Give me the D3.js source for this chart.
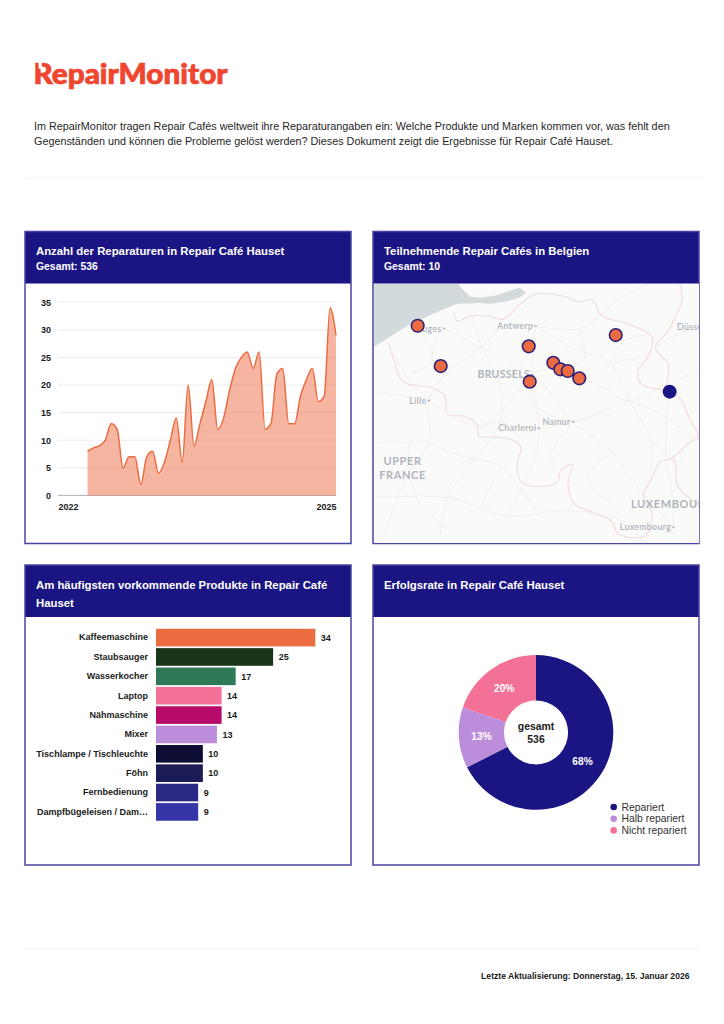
<!DOCTYPE html>
<html lang="de">
<head>
<meta charset="utf-8">
<title>RepairMonitor</title>
<script src="https://cdn.jsdelivr.net/npm/d3@7"></script>
<style>
html,body{margin:0;padding:0;background:#fff}
svg{display:block}
text{font-family:"Liberation Sans",Arial,sans-serif}
</style>
</head>
<body>
<svg id="page" width="724" height="1024" viewBox="0 0 724 1024"></svg>
<script>
// ---------- text ----------
const introLines = [
  "Im RepairMonitor tragen Repair Cafés weltweit ihre Reparaturangaben ein: Welche Produkte und Marken kommen vor, was fehlt den",
  "Gegenständen und können die Probleme gelöst werden? Dieses Dokument zeigt die Ergebnisse für Repair Café Hauset."
];
const footerText = "Letzte Aktualisierung: Donnerstag, 15. Januar 2026";

// ---------- line chart ----------
const monthLabels = [];
for (const yr of [2022,2023,2024,2025]) for (const m of ["01","02","03","04","05","06","07","08","09","10","11","12"]) monthLabels.push(yr+"-"+m);
const monthlyRepairs = [null,null,null,null,null,
  8,8.6,9,10,13,12,5,7,7,2,7,8,4,6,10,14,6,20,9,13,17,21,12,14,19,23,25,26,23,26,12,13,22,23,13,13,18,21,23,17,18,34,29];
const yTicks = [0,5,10,15,20,25,30,35];

// ---------- bars ----------
const products = ["Kaffeemaschine","Staubsauger","Wasserkocher","Laptop","Nähmaschine","Mixer","Tischlampe / Tischleuchte","Föhn","Fernbedienung","Dampfbügeleisen / Dam…"];
const productCounts = [34,25,17,14,14,13,10,10,9,9];
const productColors = ["#ec6c42","#183518","#2f7858","#f37097","#b80a68","#bb8ddb","#0e0e35","#1b1b55","#2a2a85","#3636a8"];

// ---------- donut ----------
const outcomes = ["Repariert","Halb repariert","Nicht repariert"];
const outcomeCounts = [362,68,106];
const outcomeColors = ["#1b1584","#bb8ddb","#f37097"];

// ---------- map ----------
const cafes = [[2.919,51.222],[3.208,50.904],[4.312,51.060],[4.325,50.780],[4.621,50.930],[4.709,50.878],[4.802,50.865],[4.947,50.807],[5.404,51.149]];
const hauset = [6.081,50.701];
const cities = [["Bruges",3.25,51.20],["Antwerp",4.40,51.22],["BRUSSELS",4.36,50.835],["Lille",3.06,50.63],["Namur",4.87,50.46],["Charleroi",4.44,50.41],["Luxembourg",6.13,49.61]];
const seaRing = [[2.0,51.0],[2.37,51.054],[2.785,51.22],[3.162,51.33],[3.41,51.394],[3.70,51.40],[3.83,51.394],[4.015,51.41],[4.18,51.44],[4.28,51.48],[4.20,51.52],[4.08,51.496],[3.89,51.457],[3.70,51.441],[3.576,51.449],[3.438,51.536],[3.45,51.7],[2.0,51.7],[2.0,51.0]];
const belgiumBorder = [[2.55,51.09],[2.61,50.97],[2.735,50.78],[3.11,50.73],[3.26,50.67],[3.29,50.52],[3.50,50.505],[3.66,50.44],[3.69,50.34],[3.79,50.34],[4.09,50.32],[4.215,50.26],[4.165,50.12],[4.215,49.98],[4.44,49.94],[4.68,49.98],[4.705,50.06],[4.855,50.12],[4.805,49.96],[4.89,49.80],[5.105,49.735],[5.36,49.655],[5.43,49.56],[5.77,49.54],[5.86,49.72],[5.75,49.86],[5.86,50.01],[5.96,50.14],[6.11,50.17],[6.30,50.28],[6.44,50.35],[6.34,50.47],[6.27,50.58],[6.19,50.66],[6.0,50.71],[5.73,50.76],[5.68,50.865],[5.81,50.975],[5.86,51.13],[5.56,51.236],[5.23,51.30],[5.11,51.425],[4.93,51.41],[4.77,51.45],[4.39,51.47],[4.20,51.385],[4.0,51.275],[3.79,51.30],[3.59,51.30],[3.41,51.26],[3.375,51.33]];
const otherBorders = [
  [[6.21,51.55],[6.235,51.42],[6.15,51.29],[6.06,51.18],[5.90,51.05],[6.06,50.92],[6.05,50.785],[6.0,50.71]],
  [[6.11,50.17],[6.15,50.13],[6.185,49.94],[6.435,49.80]]
];
const roads = [
  [[3.22,51.21],[3.72,51.05],[4.35,50.85],[4.87,50.46],[5.36,50.22],[5.72,49.90],[6.13,49.61]],
  [[4.40,51.22],[4.35,50.85],[4.44,50.41],[4.35,50.10],[4.05,49.70]],
  [[4.35,50.85],[4.70,50.88],[5.20,50.75],[5.57,50.63],[6.08,50.77],[6.46,50.87]],
  [[4.40,51.22],[4.95,51.20],[5.48,51.44],[5.80,51.55]],
  [[4.40,51.22],[4.86,51.05],[5.33,50.93],[5.57,50.63],[5.85,50.30],[5.82,49.95]],
  [[3.72,51.05],[3.26,50.83],[3.06,50.63],[3.06,50.30],[2.77,50.00],[2.50,49.55]],
  [[3.06,50.63],[2.40,50.70]],[[3.06,50.63],[2.75,50.85],[2.55,51.09]],
  [[3.06,50.63],[3.52,50.45],[3.95,50.45],[4.44,50.41],[4.87,50.46],[5.57,50.63]],
  [[3.72,51.05],[4.03,51.22],[4.40,51.22]],[[3.72,51.05],[3.95,50.75],[3.95,50.45],[3.55,50.10],[3.30,49.85],[3.20,49.55]],
  [[3.06,50.30],[3.40,50.20],[3.95,50.10],[4.40,49.75]],
  [[2.40,50.30],[3.06,50.30]],[[2.40,49.85],[3.30,49.85],[4.05,49.70],[4.75,49.75],[5.30,49.70],[5.82,49.60],[6.13,49.61]],
  [[6.13,49.61],[6.10,49.95],[6.03,50.16],[6.08,50.77]],[[5.57,50.63],[5.87,50.55],[6.25,50.40],[6.46,50.30]],
  [[4.35,50.85],[4.05,50.60],[3.70,50.40]],[[6.46,51.22],[6.00,51.10],[5.80,51.00],[5.33,50.93]],
  [[3.22,51.21],[3.10,50.95],[3.26,50.83]],[[2.92,51.23],[3.10,50.95],[2.85,50.85]],
  [[3.72,51.05],[3.60,51.30]],[[4.35,50.85],[4.35,50.62],[4.87,50.46],[5.25,50.55]],
  [[4.87,50.46],[4.60,50.20],[4.70,50.00]],[[5.36,50.22],[5.05,50.00],[5.35,49.80]],
  [[5.33,50.93],[5.50,51.10],[5.80,51.15]],[[4.95,51.20],[5.00,50.95],[4.70,50.88]],
  [[2.80,50.30],[2.90,49.85],[3.30,49.60]],[[3.95,50.10],[3.70,49.75]],[[5.85,50.30],[6.30,50.10]]
];

// ---------- layout ----------
const NAVY = "#1b1584", BORDER = "#4a45a3", ORANGE = "#ec6c42", INK = "#1a1a1a";
const svg = d3.select("#page");

// logo
const logo = svg.append("g").attr("class","logo");
logo.append("text").attr("x",33.5).attr("y",84).attr("font-size",27.5).attr("font-weight",900)
  .style("font-family","Lato").attr("fill","#f0452f").attr("stroke","#f0452f").attr("stroke-width",.7)
  .attr("textLength",194).attr("lengthAdjust","spacingAndGlyphs").text("RepairMonitor");
logo.append("path").attr("d","M38.6 61 h3.2 v6.5 a1.6 1.6 0 0 1 -3.2 0 z").attr("fill","#fff");

// intro
svg.append("g").selectAll("text").data(introLines).join("text")
  .attr("x",34).attr("y",(d,i)=>129.5+i*15).attr("font-size",10.82).attr("fill","#1f1f1f").text(d=>d);

// rules
svg.append("g").selectAll("line").data([178,949]).join("line")
  .attr("x1",25).attr("x2",699).attr("y1",d=>d).attr("y2",d=>d).attr("stroke","#f3f3f3").attr("stroke-width",1);

svg.append("text").attr("x",689.5).attr("y",979).attr("text-anchor","end").attr("font-size",8.6)
  .attr("font-weight",700).attr("fill",INK).text(footerText);

// panels
const panels = [
  {x:25,y:231.5,w:326,h:312,hh:52,lines:["Anzahl der Reparaturen in Repair Café Hauset","Gesamt: 536"],sizes:[11.35,10.4]},
  {x:373,y:231.5,w:326,h:312,hh:52,lines:["Teilnehmende Repair Cafés in Belgien","Gesamt: 10"],sizes:[11.35,10.4]},
  {x:25,y:565,w:326,h:300,hh:52,lines:["Am häufigsten vorkommende Produkte in Repair Café","Hauset"],sizes:[11.35,11.35]},
  {x:373,y:565,w:326,h:300,hh:52,lines:["Erfolgsrate in Repair Café Hauset"],sizes:[11.35]}
];
const panelG = svg.append("g").selectAll("g").data(panels).join("g");
panelG.append("rect").attr("x",d=>d.x).attr("y",d=>d.y).attr("width",d=>d.w).attr("height",d=>d.hh).attr("fill",NAVY);

// line chart
(function(){
  const x = d3.scalePoint().domain(monthLabels).range([58,336]);
  const y = d3.scaleLinear().domain([0,35]).range([495.4,302.2]);
  const g = svg.append("g");
  const yAxis = g.append("g").attr("transform","translate(58,0)")
    .call(d3.axisLeft(y).tickValues(yTicks).tickSize(0).tickPadding(7));
  yAxis.select(".domain").remove();
  yAxis.selectAll("text").attr("font-size",9).attr("font-weight",700).attr("fill",INK).style("font-family",'"Liberation Sans"');
  g.append("g").selectAll("line").data(yTicks.slice(1)).join("line")
    .attr("x1",58).attr("x2",336).attr("y1",d=>y(d)).attr("y2",d=>y(d)).attr("stroke","#ececec").attr("stroke-width",1);
  g.append("line").attr("x1",58).attr("x2",336).attr("y1",y(0)).attr("y2",y(0)).attr("stroke","#9a9a9a").attr("stroke-width",.8);
  const rows = monthLabels.map((m,i)=>({m,v:monthlyRepairs[i]})).filter(d=>d.v!==null);
  g.append("path").datum(rows).attr("fill",ORANGE).attr("fill-opacity",.5)
    .attr("d",d3.area().x(d=>x(d.m)).y0(y(0)).y1(d=>y(d.v)).curve(d3.curveMonotoneX));
  g.append("path").datum(rows).attr("fill","none").attr("stroke",ORANGE).attr("stroke-width",1.5)
    .attr("d",d3.line().x(d=>x(d.m)).y(d=>y(d.v)).curve(d3.curveMonotoneX));
  const xAxis = g.append("g").attr("transform","translate(0,"+y(0)+")")
    .call(d3.axisBottom(x).tickValues([monthLabels[0],monthLabels[47]]).tickSize(0).tickPadding(8).tickFormat(d=>d.slice(0,4)));
  xAxis.select(".domain").remove();
  xAxis.selectAll("text").attr("font-size",9).attr("font-weight",700).attr("fill",INK).style("font-family",'"Liberation Sans"')
    .attr("text-anchor",(d,i)=>i===0?"start":"end");
})();

// map
(function(){
  const px = {x:374,y:284,w:325,h:259};
  const defs = svg.append("defs");
  defs.append("clipPath").attr("id","mapClip").append("rect").attr("x",px.x).attr("y",px.y).attr("width",px.w).attr("height",px.h);
  const blur = defs.append("filter").attr("id","soft").attr("x","-5%").attr("y","-5%").attr("width","110%").attr("height","110%");
  blur.append("feGaussianBlur").attr("stdDeviation",0.5);
  const proj = d3.geoMercator().scale(4566).center([4.40,51.22]).translate([535.7,326]);
  const line = d3.line().x(d=>proj(d)[0]).y(d=>proj(d)[1]);
  const smooth = d3.line().x(d=>proj(d)[0]).y(d=>proj(d)[1]).curve(d3.curveCatmullRom.alpha(.5));
  const g = svg.append("g").attr("clip-path","url(#mapClip)");
  const base = g.append("g").attr("filter","url(#soft)");
  base.append("rect").attr("x",px.x).attr("y",px.y).attr("width",px.w).attr("height",px.h).attr("fill","#fafaf9");
  base.selectAll("path.water").data([seaRing]).join("path").attr("class","water")
    .attr("d",line).attr("fill","#d2dadc");
  base.selectAll("path.road").data(roads).join("path").attr("class","road")
    .attr("d",smooth).attr("fill","none").attr("stroke","#efeeec").attr("stroke-width",.9);
  base.selectAll("path.border").data([belgiumBorder,...otherBorders]).join("path").attr("class","border")
    .attr("d",smooth).attr("fill","none").attr("stroke","#f1dfe0").attr("stroke-width",1.3);
  const lab = {fill:"#aeb4bd"};
  const cg = g.append("g");
  cities.forEach(([name,lon,lat])=>{
    const [cx,cy] = proj([lon,lat]);
    const big = name===name.toUpperCase();
    cg.append("circle").attr("cx",cx).attr("cy",cy).attr("r",1.1).attr("fill",lab.fill);
    cg.append("text").attr("x",cx-2.5).attr("y",cy+3).attr("text-anchor","end").attr("font-size",big?10.5:8.8)
      .attr("font-weight",big?700:600).style("font-family","Lato").style("letter-spacing","0.3px").attr("fill",lab.fill).text(name);
  });
  const regions = [["UPPER",402.5,465,"middle"],["FRANCE",402.5,479,"middle"],["LUXEMBOURG",631,508,"start"]];
  cg.selectAll("text.region").data(regions).join("text").attr("class","region")
    .attr("x",d=>d[1]).attr("y",d=>d[2]).attr("text-anchor",d=>d[3]).attr("font-size",11).attr("font-weight",700)
    .style("font-family","Lato").style("letter-spacing","0.6px").attr("fill",lab.fill).text(d=>d[0]);
  cg.append("text").attr("x",677).attr("y",330).attr("font-size",8.8).attr("font-weight",600).style("font-family","Lato")
    .style("letter-spacing","0.3px").attr("fill",lab.fill).text("Düsseldorf");
  g.append("g").selectAll("circle").data(cafes).join("circle")
    .attr("cx",d=>proj(d)[0]).attr("cy",d=>proj(d)[1]).attr("r",6.3)
    .attr("fill",ORANGE).attr("stroke","#2e1f78").attr("stroke-width",1.6);
  g.append("circle").attr("cx",proj(hauset)[0]).attr("cy",proj(hauset)[1]).attr("r",7).attr("fill",NAVY);
})();

// bars
(function(){
  const x = d3.scaleLinear().domain([0,34]).range([156,315.3]);
  const y = d3.scaleBand().domain(products).range([628,821.5]).paddingInner(.09).paddingOuter(.04);
  const g = svg.append("g");
  g.selectAll("rect").data(products).join("rect")
    .attr("x",x(0)).attr("y",d=>y(d)).attr("height",y.bandwidth())
    .attr("width",(d,i)=>x(productCounts[i])-x(0)).attr("fill",(d,i)=>productColors[i]);
  const axis = g.append("g").attr("transform","translate(156,0)").call(d3.axisLeft(y).tickSize(0).tickPadding(8));
  axis.select(".domain").remove();
  axis.selectAll("text").attr("font-size",9).attr("font-weight",700).attr("fill",INK).style("font-family",'"Liberation Sans"');
  g.selectAll("text.val").data(products).join("text").attr("class","val")
    .attr("x",(d,i)=>x(productCounts[i])+5.5).attr("y",d=>y(d)+y.bandwidth()/2+3.2)
    .attr("font-size",9).attr("font-weight",700).attr("fill",INK).text((d,i)=>productCounts[i]);
})();

// donut
(function(){
  const c = [536,732.4];
  const total = d3.sum(outcomeCounts);
  const pie = d3.pie().sort(null)(outcomeCounts);
  const arc = d3.arc().innerRadius(32).outerRadius(77.3);
  const g = svg.append("g").attr("transform","translate("+c+")");
  g.selectAll("path").data(pie).join("path").attr("d",arc).attr("fill",(d,i)=>outcomeColors[i]);
  const labelArc = d3.arc().innerRadius(54.6).outerRadius(54.6);
  g.selectAll("text.pct").data(pie).join("text").attr("class","pct")
    .attr("transform",d=>"translate("+labelArc.centroid(d)+")").attr("text-anchor","middle").attr("dy",4)
    .attr("font-size",10.2).attr("font-weight",700).attr("fill","#fff").text(d=>Math.round(d.value/total*100)+"%");
  g.selectAll("text.center").data(["gesamt",total]).join("text").attr("class","center")
    .attr("text-anchor","middle").attr("y",(d,i)=>-2+i*12.3).attr("font-size",10.4).attr("font-weight",700).attr("fill",INK).text(d=>d);
  const lg = svg.append("g").selectAll("g").data(outcomes).join("g").attr("transform",(d,i)=>"translate(613.7,"+(807+i*11.7)+")");
  lg.append("circle").attr("r",3.3).attr("fill",(d,i)=>outcomeColors[i]);
  lg.append("text").attr("x",7.8).attr("y",3.6).attr("font-size",10.4).attr("fill","#333").text(d=>d);
})();

// panel text and frames on top
panelG.each(function(d){
  const s = d3.select(this).raise();
  s.append("rect").attr("x",d.x).attr("y",d.y).attr("width",d.w).attr("height",d.h).attr("fill","none").attr("stroke",BORDER).attr("stroke-width",1.5);
  s.selectAll("text").data(d.lines).join("text").attr("x",d.x+11).attr("y",(t,i)=>d.y+(d.y<400?23:24)+i*(d.y<400?15.5:17.5))
    .attr("font-size",(t,i)=>d.sizes[i]).attr("font-weight",700).attr("fill","#fff").text(t=>t);
});
</script>
</body>
</html>
